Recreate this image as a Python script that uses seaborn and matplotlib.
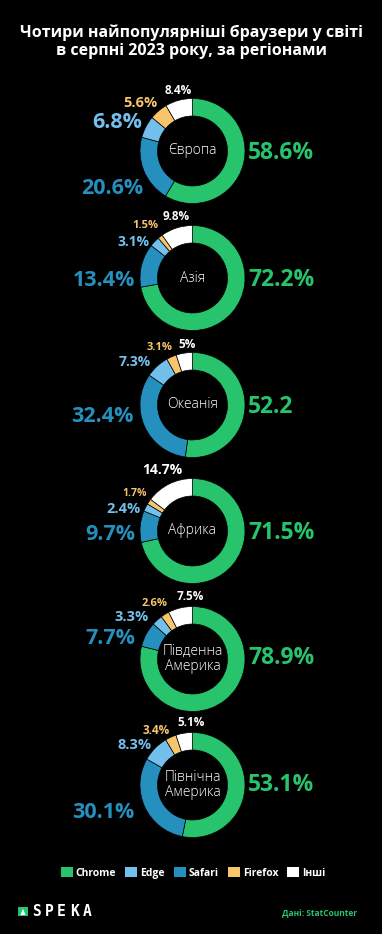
import numpy as np
import pandas as pd
import matplotlib
matplotlib.use("Agg")
import matplotlib.pyplot as plt
from matplotlib.patches import Patch, Rectangle, Polygon
import seaborn as sns

# ---------------- data ----------------
title = "Чотири найпопулярніші браузери у світі\nв серпні 2023 року, за регіонами"
regions = ["Європа", "Азія", "Океанія", "Африка", "Південна\nАмерика", "Північна\nАмерика"]
browsers = ["Chrome", "Edge", "Safari", "Firefox", "Інші"]
chrome = [58.6, 72.2, 52.2, 71.5, 78.9, 53.1]
edge = [6.8, 3.1, 7.3, 2.4, 3.3, 8.3]
safari = [20.6, 13.4, 32.4, 9.7, 7.7, 30.1]
firefox = [5.6, 1.5, 3.1, 1.7, 2.6, 3.4]
other = [8.4, 9.8, 5.0, 14.7, 7.5, 5.1]
chrome_suffix = ["%", "%", "", "%", "%", "%"]
source = "Дані: StatCounter"

# ---------------- style ----------------
sns.set_style("dark", {"axes.facecolor": "black", "figure.facecolor": "black"})
colors = dict(zip(browsers, sns.color_palette(["#27c46d", "#74c0ec", "#2590bd", "#f8c56c", "#ffffff"])))
pie_order = ["Chrome", "Safari", "Edge", "Firefox", "Інші"]
FONT = ["Open Sans", "DejaVu Sans"]
plt.rcParams["font.family"] = FONT

df = pd.DataFrame({"region": regions, "Chrome": chrome, "Edge": edge,
                   "Safari": safari, "Firefox": firefox, "Інші": other})

W, H = 382, 934
fig = plt.figure(figsize=(W / 100, H / 100), dpi=100)
ax = fig.add_axes([0, 0, 1, 1])
ax.set_facecolor("black")

def Y(y):
    return H - y

# layout (image pixel coords)
cx = 192.5
cys = [151, 278, 405, 531, 659, 785]
R, WIDTH = 52.5, 17.5

# label offsets relative to donut center: (dx, dy, ha, fontsize)
lay = {
    "Chrome":  [(55.5, 2, "left", 16.5), (55.5, 2, "left", 16.5), (55.5, 2, "left", 16.5),
                (55.5, 2, "left", 16.5), (55.5, -1, "left", 16.5), (55.5, 0, "left", 16.5)],
    "Safari":  [(-49.5, 38, "right", 15.5), (-57.5, 2, "right", 15.5), (-59.5, 12, "right", 15.5),
                (-57.5, 3, "right", 15.5), (-57.5, -21, "right", 15.5), (-58.5, 27, "right", 15.5)],
    "Edge":    [(-75.5, -28, "center", 15.5), (-58.5, -36, "center", 10), (-57.5, -43, "center", 10),
                (-69, -22, "center", 10.5), (-61, -42, "center", 10.5), (-57.5, -40, "center", 10.5)],
    "Firefox": [(-52.5, -48, "center", 10.5), (-47, -52, "center", 8), (-33, -58, "center", 8),
                (-58, -38, "center", 7.5), (-38, -55, "center", 8), (-36, -55, "center", 8.5)],
    "Інші":    [(-14.5, -61, "center", 8.5), (-16, -61, "center", 8.5), (-5, -60, "center", 8.5),
                (-30.5, -61, "center", 10), (-2, -63, "center", 8.5), (-1.5, -62, "center", 8.5)],
}

for i, row in df.iterrows():
    cy = cys[i]
    vals = [row[b] for b in pie_order]
    ax.pie(vals, colors=[colors[b] for b in pie_order], startangle=90, counterclock=False,
           center=(cx, Y(cy)), radius=R,
           wedgeprops=dict(width=WIDTH, edgecolor="black", linewidth=0.5))
    ax.text(cx, Y(cy), row["region"], ha="center", va="center", color="white",
            fontsize=10, fontweight="light", linespacing=1.05, family=FONT)
    for b in browsers:
        dx, dy, ha, fs = lay[b][i]
        v = row[b]
        txt = f"{v:g}" + (chrome_suffix[i] if b == "Chrome" else "%")
        ax.text(cx + dx, Y(cy + dy), txt, ha=ha, va="center", color=colors[b],
                fontsize=fs, fontweight="bold", family=FONT)

# title
ax.text(W / 2, Y(41.5), title, ha="center", va="center", color="white",
        fontsize=11.5, fontweight="bold", linespacing=1.2, family=FONT)

# legend
handles = [Patch(facecolor=colors[b], edgecolor="none", label=b) for b in browsers]
leg = ax.legend(handles=handles, loc="center", bbox_to_anchor=(193 / W, 1 - 873 / H),
                ncol=5, frameon=False, handlelength=1.15, handleheight=1.15,
                handletextpad=0.3, columnspacing=0.85, borderaxespad=0,
                prop={"family": FONT, "weight": "bold", "size": 7.5})
for t in leg.get_texts():
    t.set_color("white")

# source
ax.text(357, Y(914), source, ha="right", va="center", color="#27c46d",
        fontsize=6, fontweight="bold", family=FONT)

# logo
ax.add_patch(Rectangle((18, Y(916)), 10, 9, facecolor="#27c46d", edgecolor="none"))
ax.add_patch(Polygon([(20.5, Y(915)), (25.5, Y(915)), (23, Y(908.5))], closed=True,
                     facecolor="white", edgecolor="none"))
for k, ch in enumerate("SPEKA"):
    ax.text(32 + k * 12.6, Y(912), ch, ha="left", va="center", color="white",
            fontsize=10.5, fontweight="bold", family=["DejaVu Sans Mono"])

ax.set_xlim(0, W)
ax.set_ylim(0, H)
ax.set_aspect("auto")
ax.set_position([0, 0, 1, 1])
ax.axis("off")

fig.savefig("out.png", dpi=100, facecolor="black")
